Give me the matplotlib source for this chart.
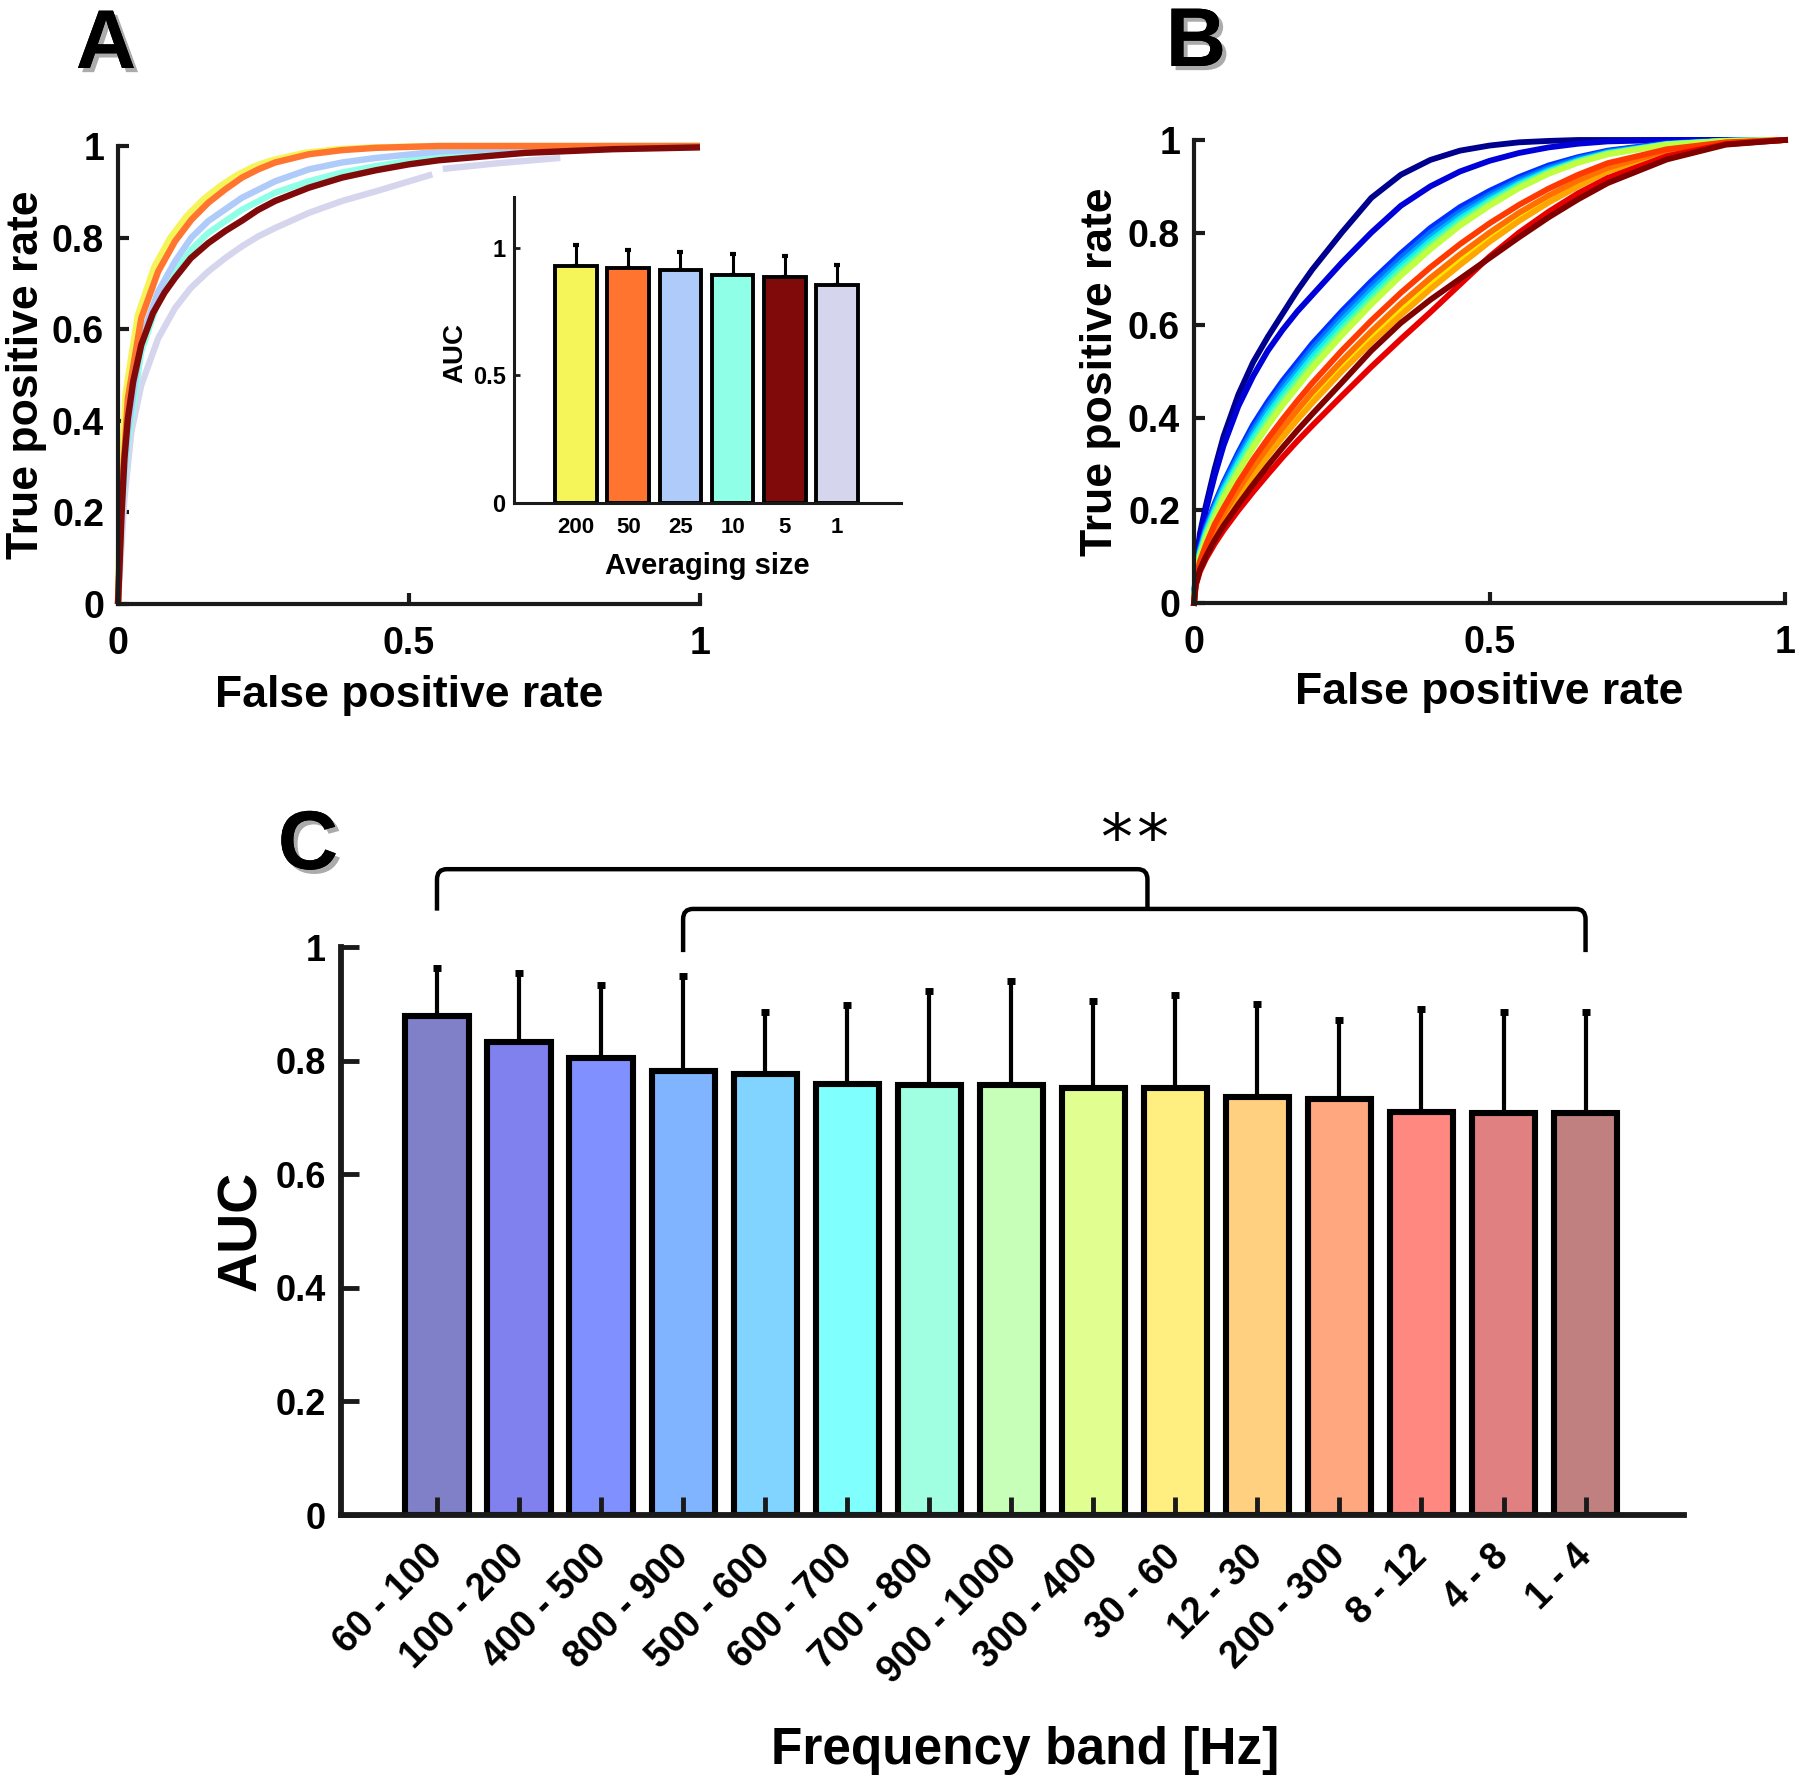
import numpy as np
import matplotlib
matplotlib.use("Agg")
import matplotlib.pyplot as plt
from matplotlib import font_manager
from matplotlib.path import Path
from matplotlib.patches import PathPatch
import matplotlib.patheffects as pe

# ---------------- DATA ----------------
# Panel A: ROC curves for different averaging sizes
avg_sizes = ["200", "50", "25", "10", "5", "1"]
rocA_200_x = [0, 0.004, 0.013, 0.034, 0.062, 0.09, 0.118, 0.147, 0.176, 0.205, 0.233, 0.262, 0.32, 0.377, 0.44, 0.55, 1.0]
rocA_200_y = [0, 0.24, 0.46, 0.63, 0.735, 0.80, 0.847, 0.884, 0.913, 0.937, 0.955, 0.968, 0.985, 0.993, 0.997, 1.0, 1.0]
rocA_50_x = [0, 0.006, 0.017, 0.040, 0.069, 0.098, 0.126, 0.155, 0.184, 0.213, 0.241, 0.270, 0.328, 0.385, 0.443, 0.552, 1.0]
rocA_50_y = [0, 0.23, 0.449, 0.624, 0.726, 0.792, 0.839, 0.876, 0.905, 0.931, 0.949, 0.964, 0.982, 0.991, 0.996, 1.0, 1.0]
rocA_25_x = [0, 0.005, 0.017, 0.040, 0.069, 0.098, 0.126, 0.155, 0.213, 0.270, 0.328, 0.385, 0.443, 0.552, 0.7, 0.85, 1.0]
rocA_25_y = [0, 0.20, 0.376, 0.58, 0.682, 0.748, 0.80, 0.836, 0.887, 0.923, 0.949, 0.964, 0.974, 0.988, 0.997, 1.0, 1.0]
rocA_10_x = [0, 0.005, 0.017, 0.040, 0.069, 0.098, 0.126, 0.155, 0.213, 0.270, 0.328, 0.385, 0.443, 0.552, 0.7, 0.85, 1.0]
rocA_10_y = [0, 0.19, 0.354, 0.551, 0.661, 0.726, 0.774, 0.810, 0.861, 0.898, 0.923, 0.942, 0.956, 0.978, 0.993, 0.999, 1.0]
rocA_5_x = [0, 0.006, 0.011, 0.017, 0.026, 0.040, 0.06, 0.08, 0.098, 0.125, 0.155, 0.185, 0.213, 0.240, 0.270, 0.328, 0.385, 0.443, 0.5, 0.552, 0.7, 0.85, 1.0]
rocA_5_y = [0, 0.193, 0.317, 0.405, 0.485, 0.566, 0.635, 0.68, 0.712, 0.755, 0.788, 0.815, 0.837, 0.86, 0.880, 0.909, 0.931, 0.947, 0.960, 0.969, 0.985, 0.993, 0.997]
rocA_1_x = [0, 0.011, 0.023, 0.040, 0.069, 0.098, 0.125, 0.155, 0.185, 0.213, 0.240, 0.270, 0.328, 0.385, 0.443, 0.540, np.nan, 0.558, 0.65, 0.76]
rocA_1_y = [0, 0.23, 0.376, 0.478, 0.58, 0.646, 0.69, 0.726, 0.756, 0.781, 0.802, 0.821, 0.854, 0.880, 0.901, 0.938, np.nan, 0.950, 0.962, 0.974]

# Inset: AUC vs averaging size
auc_avg = [0.931, 0.921, 0.914, 0.896, 0.885, 0.856]
auc_avg_err = [0.082, 0.070, 0.069, 0.079, 0.082, 0.078]

# Panel B: ROC curves per frequency band (read at common FPR values)
rocB_x = [0, 0.003, 0.01, 0.02, 0.035, 0.05, 0.075, 0.1, 0.125, 0.15, 0.175, 0.2, 0.25,
          0.3, 0.35, 0.4, 0.45, 0.5, 0.55, 0.6, 0.65, 0.7, 0.8, 0.9, 1.0]
rocB_y = [
    [0, 0.08, 0.15, 0.21, 0.29, 0.36, 0.45, 0.52, 0.575, 0.625, 0.675, 0.72, 0.80, 0.875, 0.925, 0.957, 0.977, 0.988, 0.995, 0.998, 1, 1, 1, 1, 1],
    [0, 0.075, 0.14, 0.2, 0.275, 0.34, 0.425, 0.49, 0.545, 0.59, 0.63, 0.665, 0.735, 0.80, 0.858, 0.90, 0.932, 0.955, 0.972, 0.984, 0.992, 0.997, 1, 1, 1],
    [0, 0.07, 0.12, 0.165, 0.215, 0.26, 0.325, 0.385, 0.435, 0.48, 0.52, 0.56, 0.63, 0.695, 0.755, 0.81, 0.855, 0.89, 0.92, 0.945, 0.963, 0.977, 0.993, 0.999, 1],
    [0, 0.068, 0.115, 0.16, 0.21, 0.255, 0.318, 0.375, 0.425, 0.47, 0.51, 0.55, 0.62, 0.685, 0.745, 0.80, 0.845, 0.882, 0.914, 0.94, 0.96, 0.975, 0.992, 0.999, 1],
    [0, 0.066, 0.112, 0.156, 0.205, 0.249, 0.31, 0.366, 0.416, 0.46, 0.5, 0.54, 0.61, 0.675, 0.735, 0.79, 0.837, 0.876, 0.909, 0.936, 0.957, 0.973, 0.991, 0.998, 1],
    [0, 0.064, 0.109, 0.152, 0.2, 0.243, 0.303, 0.358, 0.407, 0.451, 0.491, 0.531, 0.601, 0.666, 0.727, 0.782, 0.83, 0.87, 0.905, 0.933, 0.955, 0.972, 0.991, 0.998, 1],
    [0, 0.062, 0.106, 0.148, 0.195, 0.237, 0.296, 0.35, 0.398, 0.442, 0.482, 0.522, 0.592, 0.658, 0.72, 0.775, 0.824, 0.866, 0.902, 0.931, 0.954, 0.971, 0.991, 0.998, 1],
    [0, 0.06, 0.103, 0.144, 0.19, 0.231, 0.289, 0.342, 0.39, 0.434, 0.474, 0.514, 0.585, 0.651, 0.713, 0.769, 0.819, 0.862, 0.899, 0.929, 0.952, 0.97, 0.99, 0.998, 1],
    [0, 0.058, 0.1, 0.14, 0.185, 0.226, 0.283, 0.335, 0.383, 0.427, 0.467, 0.507, 0.578, 0.645, 0.707, 0.764, 0.815, 0.858, 0.896, 0.927, 0.951, 0.969, 0.99, 0.998, 1],
    [0, 0.045, 0.08, 0.112, 0.152, 0.185, 0.236, 0.283, 0.326, 0.367, 0.405, 0.442, 0.51, 0.573, 0.632, 0.688, 0.74, 0.788, 0.832, 0.87, 0.905, 0.935, 0.975, 0.994, 1],
    [0, 0.044, 0.078, 0.109, 0.148, 0.18, 0.23, 0.276, 0.318, 0.358, 0.396, 0.432, 0.5, 0.563, 0.622, 0.678, 0.73, 0.78, 0.825, 0.865, 0.9, 0.932, 0.973, 0.993, 1],
    [0, 0.047, 0.084, 0.117, 0.158, 0.192, 0.245, 0.293, 0.337, 0.378, 0.417, 0.455, 0.523, 0.587, 0.647, 0.702, 0.753, 0.8, 0.843, 0.88, 0.913, 0.94, 0.977, 0.994, 1],
    [0, 0.05, 0.09, 0.125, 0.17, 0.205, 0.26, 0.31, 0.355, 0.397, 0.437, 0.475, 0.545, 0.61, 0.67, 0.725, 0.775, 0.82, 0.86, 0.895, 0.925, 0.95, 0.98, 0.995, 1],
    [0, 0.038, 0.068, 0.095, 0.128, 0.157, 0.2, 0.24, 0.278, 0.315, 0.35, 0.383, 0.447, 0.51, 0.57, 0.628, 0.688, 0.748, 0.8, 0.845, 0.885, 0.918, 0.965, 0.991, 1],
    [0, 0.04, 0.072, 0.1, 0.136, 0.167, 0.213, 0.256, 0.297, 0.336, 0.373, 0.408, 0.476, 0.545, 0.605, 0.655, 0.70, 0.745, 0.79, 0.833, 0.872, 0.907, 0.958, 0.99, 1],
]

# Panel C: AUC per frequency band
bands = ["60 - 100", "100 - 200", "400 - 500", "800 - 900", "500 - 600", "600 - 700",
         "700 - 800", "900 - 1000", "300 - 400", "30 - 60", "12 - 30", "200 - 300",
         "8 - 12", "4 - 8", "1 - 4"]
auc_band = [0.878, 0.833, 0.805, 0.782, 0.776, 0.759, 0.757, 0.757, 0.752, 0.752,
            0.736, 0.732, 0.709, 0.707, 0.707]
auc_band_err = [0.085, 0.122, 0.128, 0.167, 0.110, 0.139, 0.165, 0.183, 0.153, 0.164,
                0.164, 0.140, 0.181, 0.179, 0.179]

# ---------------- STYLE ----------------
plt.rcParams['font.family'] = ['Liberation Sans', 'DejaVu Sans']
plt.rcParams['font.weight'] = 'bold'
names = {f.name for f in font_manager.fontManager.ttflist}
NARROW = ['Liberation Sans Narrow', 'Liberation Sans'] if 'Liberation Sans Narrow' in names else ['Liberation Sans']

colA = ['#F5F55A', '#FF7530', '#AECBFA', '#90FFE8', '#800A0A', '#D5D5EE']
colB = ['#00008F', '#0000D8', '#0030FF', '#0070FF', '#00AFFF', '#10EFEF', '#40FFBF',
        '#80FF80', '#BFFF40', '#FFE800', '#FFA500', '#FF7000', '#FF3A00', '#E80000', '#800000']
colC = ['#8080C8', '#8080EE', '#8090FF', '#80B4FF', '#80D4FF', '#80FFFF', '#A0FFE0',
        '#C8FFB8', '#E0FF90', '#FFEE80', '#FFD080', '#FFA880', '#FF8880', '#E08080', '#C08080']

W, H = 1800, 1785
fig = plt.figure(figsize=(W / 100, H / 100), dpi=100)

def fax(l, r, t, b):
    return fig.add_axes([l / W, 1 - b / H, (r - l) / W, (b - t) / H])

def matlab_style(ax, lw=3.0, tl=8, tw=3):
    for s in ['top', 'right']:
        ax.spines[s].set_visible(False)
    for s in ['left', 'bottom']:
        ax.spines[s].set_linewidth(lw)
        ax.spines[s].set_color('#1a1a1a')
    ax.tick_params(direction='in', length=tl, width=tw, color='#1a1a1a')

def narrow_ticks(ax, size, axis='both'):
    labs = []
    if axis in ('both', 'y'):
        labs += ax.get_yticklabels()
    if axis in ('both', 'x'):
        labs += ax.get_xticklabels()
    for t in labs:
        t.set_family(NARROW)
        t.set_fontsize(size)
        t.set_fontweight('bold')

shadow = [pe.withSimplePatchShadow(offset=(3, -3), shadow_rgbFace='#888888', alpha=0.7), pe.Normal()]

# ---------------- PANEL A ----------------
axA = fax(118, 700, 146, 604)
matlab_style(axA)
axA.set_xlim(0, 1)
axA.set_ylim(0, 1)
rocA = [(rocA_1_x, rocA_1_y, 5), (rocA_10_x, rocA_10_y, 3), (rocA_25_x, rocA_25_y, 2),
        (rocA_200_x, rocA_200_y, 0), (rocA_50_x, rocA_50_y, 1), (rocA_5_x, rocA_5_y, 4)]
for xs, ys, ci in rocA:
    axA.plot(xs, ys, color=colA[ci], lw=4.6, clip_on=False, solid_capstyle='butt',
             solid_joinstyle='round')
axA.set_xticks([0, 0.5, 1])
axA.set_xticklabels(['0', '0.5', '1'])
axA.set_yticks([0, 0.2, 0.4, 0.6, 0.8, 1])
axA.set_yticklabels(['0', '0.2', '0.4', '0.6', '0.8', '1'])
axA.tick_params(axis='y', pad=10)
axA.tick_params(axis='x', pad=16)
narrow_ticks(axA, 27)
axA.set_xlabel('False positive rate', fontsize=32, fontweight='bold')
axA.set_ylabel('True positive rate', fontsize=32, fontweight='bold')
axA.xaxis.set_label_coords(0.5, -0.155)
axA.yaxis.set_label_coords(-0.122, 0.5)

# Inset
axI = fax(514, 901, 197, 503)
matlab_style(axI, lw=2.2, tl=4, tw=2)
xi = np.arange(1, len(auc_avg) + 1)
axI.bar(xi, auc_avg, width=0.8, color=colA, edgecolor='black', linewidth=2.8, zorder=2)
axI.errorbar(xi, auc_avg, yerr=[np.zeros(len(auc_avg)), auc_avg_err], fmt='none',
             ecolor='black', elinewidth=2.2, capsize=2.2, capthick=3, zorder=1)
axI.set_xlim(-0.19, 7.23)
axI.set_ylim(0, 1.2)
axI.set_xticks(xi)
axI.set_xticklabels(avg_sizes, fontsize=16, fontweight='bold')
axI.set_yticks([0, 0.5, 1])
axI.set_yticklabels(['0', '0.5', '1'])
narrow_ticks(axI, 17, axis='y')
axI.tick_params(axis='x', pad=10, length=3)
axI.tick_params(axis='y', pad=6)
axI.set_xlabel('Averaging size', fontsize=21, fontweight='bold')
axI.xaxis.set_label_coords(0.5, -0.16)
axI.set_ylabel('AUC', fontsize=20, fontweight='bold')
axI.yaxis.set_label_coords(-0.117, 0.49)
axI.patch.set_alpha(0)

# ---------------- PANEL B ----------------
axB = fax(1194, 1785, 140, 603)
matlab_style(axB)
axB.set_xlim(0, 1)
axB.set_ylim(0, 1)
for i, ys in enumerate(rocB_y):
    axB.plot(rocB_x, ys, color=colB[i], lw=4.2, clip_on=False, solid_joinstyle='round')
axB.set_xticks([0, 0.5, 1])
axB.set_xticklabels(['0', '0.5', '1'])
axB.set_yticks([0, 0.2, 0.4, 0.6, 0.8, 1])
axB.set_yticklabels(['0', '0.2', '0.4', '0.6', '0.8', '1'])
axB.tick_params(axis='y', pad=10)
axB.tick_params(axis='x', pad=16)
narrow_ticks(axB, 27)
axB.set_xlabel('False positive rate', fontsize=32, fontweight='bold')
axB.set_ylabel('True positive rate', fontsize=32, fontweight='bold')
axB.xaxis.set_label_coords(0.5, -0.149)
axB.yaxis.set_label_coords(-0.124, 0.5)

# ---------------- PANEL C ----------------
axC = fax(341, 1684, 947, 1515)
matlab_style(axC, lw=4.2, tl=13, tw=3.5)
xc = np.arange(1, len(auc_band) + 1)
axC.bar(xc, auc_band, width=0.77, color=colC, edgecolor='black', linewidth=4.4, zorder=2)
axC.errorbar(xc, auc_band, yerr=[np.zeros(len(auc_band)), auc_band_err], fmt='none',
             ecolor='black', elinewidth=3.0, capsize=2.6, capthick=5, zorder=1)
axC.set_xlim(-0.17, 16.2)
axC.set_ylim(0, 1)
axC.set_xticks(xc)
axC.set_xticklabels(bands, rotation=45, ha='right', va='center', rotation_mode='anchor',
                    fontsize=27, fontweight='bold')
axC.tick_params(axis='x', pad=26)
axC.set_yticks([0, 0.2, 0.4, 0.6, 0.8, 1])
axC.set_yticklabels(['0', '0.2', '0.4', '0.6', '0.8', '1'])
narrow_ticks(axC, 26, axis='y')
axC.tick_params(axis='y', pad=11)
axC.set_ylabel('AUC', fontsize=40, fontweight='bold')
axC.yaxis.set_label_coords(-0.054, 0.5)
axC.set_axisbelow(False)

def bracket(ax, x1, x2, ylo1, ylo2, ytop, rx=0.12, ry=0.018, lw=3.2):
    verts = [(x1, ylo1), (x1, ytop - ry), (x1, ytop), (x1 + rx, ytop),
             (x2 - rx, ytop), (x2, ytop), (x2, ytop - ry), (x2, ylo2)]
    codes = [Path.MOVETO, Path.LINETO, Path.CURVE3, Path.CURVE3,
             Path.LINETO, Path.CURVE3, Path.CURVE3, Path.LINETO]
    ax.add_patch(PathPatch(Path(verts, codes), fill=False, lw=lw, edgecolor='black',
                           clip_on=False, capstyle='butt'))

bracket(axC, 1, 9.66, 1.064, 1.067, 1.137)
bracket(axC, 4, 15, 0.991, 0.991, 1.067)
for dx in (-0.22, 0.22):
    axC.text(9.5 + dx, 1.187, '*', ha='center', va='center', fontsize=46,
             fontweight='normal', family=['DejaVu Sans'], clip_on=False)

fig.text(1025 / W, 1 - 1750 / H, 'Frequency band [Hz]', ha='center', va='center',
         fontsize=37, fontweight='bold')

# Panel letters
for lab, (x, y) in {'A': (106, 46), 'B': (1196, 44), 'C': (308, 847)}.items():
    fig.text(x / W, 1 - y / H, lab, ha='center', va='center', fontsize=60,
             fontweight='bold', path_effects=shadow)

fig.savefig('out.png', dpi=100, facecolor='white')
